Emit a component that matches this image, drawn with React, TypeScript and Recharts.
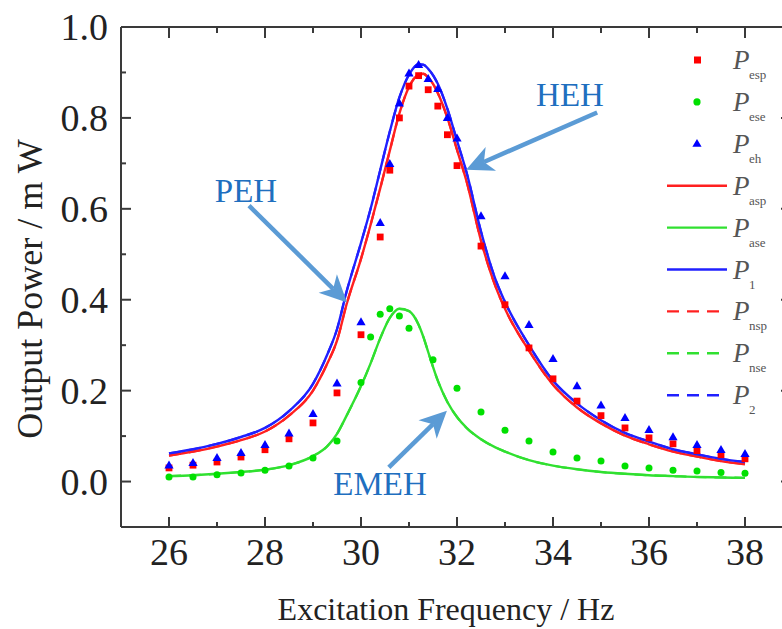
import React from 'react';
import {
  ComposedChart, Line, Scatter, XAxis, YAxis, Legend, ReferenceLine, ReferenceDot, Label,
} from 'recharts';

// ---------- data ----------
const lineFreq = [26, 26.5, 27, 27.5, 28, 28.5, 29, 29.3, 29.5, 29.7, 30, 30.2, 30.4, 30.6, 30.8, 31, 31.2, 31.3, 31.4, 31.6, 31.8, 32, 32.2, 32.5, 32.8, 33, 33.5, 34, 34.5, 35, 35.5, 36, 36.5, 37, 37.5, 38];
const P1 = [0.062, 0.071, 0.083, 0.098, 0.118, 0.155, 0.215, 0.28, 0.335, 0.418, 0.525, 0.6, 0.685, 0.77, 0.845, 0.895, 0.918, 0.917, 0.908, 0.875, 0.82, 0.75, 0.68, 0.55, 0.445, 0.395, 0.3, 0.222, 0.172, 0.135, 0.107, 0.088, 0.071, 0.06, 0.05, 0.043];
const Pasp = [0.057, 0.066, 0.077, 0.091, 0.11, 0.145, 0.2, 0.26, 0.31, 0.39, 0.49, 0.565, 0.645, 0.728, 0.81, 0.868, 0.895, 0.897, 0.889, 0.855, 0.8, 0.73, 0.66, 0.53, 0.43, 0.38, 0.288, 0.213, 0.163, 0.128, 0.101, 0.082, 0.066, 0.055, 0.045, 0.038];
const Pase = [0.012, 0.014, 0.017, 0.021, 0.026, 0.036, 0.056, 0.078, 0.105, 0.145, 0.21, 0.26, 0.315, 0.36, 0.38, 0.375, 0.345, 0.318, 0.285, 0.222, 0.175, 0.142, 0.118, 0.093, 0.075, 0.066, 0.047, 0.035, 0.027, 0.021, 0.017, 0.014, 0.012, 0.01, 0.009, 0.008];
// numerical (dashed) curves coincide with the analytical ones
const Pnsp = Pasp;
const Pnse = Pase;
const P2 = P1;

const ptFreq = [26, 26.5, 27, 27.5, 28, 28.5, 29, 29.5, 30, 30.4, 30.6, 30.8, 31, 31.2, 31.4, 31.6, 31.8, 32, 32.5, 33, 33.5, 34, 34.5, 35, 35.5, 36, 36.5, 37, 37.5, 38];
const Pesp = [0.03, 0.036, 0.043, 0.054, 0.07, 0.094, 0.129, 0.195, 0.323, 0.538, 0.685, 0.8, 0.87, 0.893, 0.862, 0.826, 0.763, 0.695, 0.518, 0.389, 0.294, 0.226, 0.177, 0.145, 0.118, 0.096, 0.083, 0.068, 0.059, 0.05];
const Peh = [0.036, 0.041, 0.052, 0.063, 0.081, 0.106, 0.149, 0.216, 0.351, 0.569, 0.699, 0.832, 0.898, 0.917, 0.886, 0.864, 0.8, 0.755, 0.584, 0.452, 0.345, 0.27, 0.21, 0.168, 0.14, 0.114, 0.098, 0.081, 0.07, 0.061];

const eseFreq = [26, 26.5, 27, 27.5, 28, 28.5, 29, 29.5, 30, 30.2, 30.4, 30.6, 30.8, 31, 31.5, 32, 32.5, 33, 33.5, 34, 34.5, 35, 35.5, 36, 36.5, 37, 37.5, 38];
const Pese = [0.01, 0.01, 0.015, 0.019, 0.025, 0.034, 0.052, 0.089, 0.218, 0.318, 0.368, 0.38, 0.364, 0.337, 0.268, 0.205, 0.153, 0.113, 0.089, 0.065, 0.052, 0.045, 0.034, 0.03, 0.025, 0.023, 0.02, 0.018];

const xTicks = [26, 27, 28, 29, 30, 31, 32, 33, 34, 35, 36, 37, 38];
const yTicks = [0, 0.1, 0.2, 0.3, 0.4, 0.5, 0.6, 0.7, 0.8, 0.9, 1.0];

const legendItems = [
  { sub: 'esp', color: '#ff0000', kind: 'square' },
  { sub: 'ese', color: '#00e000', kind: 'circle' },
  { sub: 'eh', color: '#0000ff', kind: 'triangle' },
  { sub: 'asp', color: '#ff2020', kind: 'solid' },
  { sub: 'ase', color: '#30e030', kind: 'solid' },
  { sub: '1', color: '#2020ff', kind: 'solid' },
  { sub: 'nsp', color: '#ff2020', kind: 'dashed' },
  { sub: 'nse', color: '#30e030', kind: 'dashed' },
  { sub: '2', color: '#2020ff', kind: 'dashed' },
];

const zip = (xs: number[], ys: number[]) => xs.map((f, i) => ({ f, v: ys[i] }));

// ---------- styles ----------
const AXIS = '#3a3a3a';
const FONT = '"Liberation Serif", "Times New Roman", serif';
const ARROW = '#5b9bd5';
const NOTE = '#1f6fbf';
const RED = '#ff2020';
const GREEN = '#30e030';
const BLUE = '#2020ff';
const serif = (size: number, extra: any = {}) => ({ fontFamily: FONT, fontSize: size, ...extra });

const isMajorX = (v: number) => Math.round(v) % 2 === 0;
const isMajorY = (v: number) => Math.round(v * 10) % 2 === 0;

function BottomTick(props: any) {
  const { x, y, payload } = props;
  const v = payload.value;
  const major = isMajorX(v);
  return (
    <g>
      <line x1={x} x2={x} y1={y} y2={y - (major ? 10 : 5)} stroke={AXIS} strokeWidth={2} />
      {major && (
        <text x={x} y={y + 38} textAnchor="middle" style={serif(38)} fill="#222">{v}</text>
      )}
    </g>
  );
}
function TopTick(props: any) {
  const { x, y, payload } = props;
  const major = isMajorX(payload.value);
  return <line x1={x} x2={x} y1={y} y2={y + (major ? 11 : 6)} stroke={AXIS} strokeWidth={2} />;
}
function LeftTick(props: any) {
  const { x, y, payload } = props;
  const v = payload.value;
  const major = isMajorY(v);
  return (
    <g>
      <line x1={x} x2={x + (major ? 10 : 5)} y1={y} y2={y} stroke={AXIS} strokeWidth={2} />
      {major && (
        <text x={x - 13} y={y + 13} textAnchor="end" style={serif(38)} fill="#222">{v.toFixed(1)}</text>
      )}
    </g>
  );
}
function RightTick(props: any) {
  const { x, y, payload } = props;
  const major = isMajorY(payload.value);
  return <line x1={x} x2={x - (major ? 12 : 6)} y1={y} y2={y} stroke={AXIS} strokeWidth={2} />;
}

function Arrow(props: any) {
  const { x1, y1, x2, y2 } = props;
  const dx = x2 - x1;
  const dy = y2 - y1;
  const L = Math.hypot(dx, dy) || 1;
  const ux = dx / L;
  const uy = dy / L;
  const hl = 27;
  const hw = 13;
  const bx = x2 - ux * hl;
  const by = y2 - uy * hl;
  const nx = x2 - ux * hl * 0.72;
  const ny = y2 - uy * hl * 0.72;
  const px = -uy;
  const py = ux;
  return (
    <g>
      <line x1={x1} y1={y1} x2={nx} y2={ny} stroke={ARROW} strokeWidth={4.5} />
      <polygon
        points={`${x2},${y2} ${bx + px * hw},${by + py * hw} ${nx},${ny} ${bx - px * hw},${by - py * hw}`}
        fill={ARROW}
      />
    </g>
  );
}

const noteShape = (txt: string) => (p: any) => (
  <text x={p.cx} y={p.cy} textAnchor="middle" style={serif(33)} fill={NOTE}>{txt}</text>
);

const Square = (color: string) => (p: any) => (
  <rect x={p.cx - 3.4} y={p.cy - 3.4} width={6.8} height={6.8} fill={color} />
);
const Dot = (color: string) => (p: any) => <circle cx={p.cx} cy={p.cy} r={3.5} fill={color} />;
const Tri = (color: string) => (p: any) => (
  <polygon points={`${p.cx},${p.cy - 4.8} ${p.cx - 4.6},${p.cy + 3.2} ${p.cx + 4.6},${p.cy + 3.2}`} fill={color} />
);

function LegendBox() {
  const rowY = (i: number) => 20 + i * 41.9;
  return (
    <svg width={132} height={380} style={{ display: 'block' }}>
      {legendItems.map((it, i) => {
        const y = rowY(i);
        let mark: any = null;
        if (it.kind === 'square') mark = <rect x={44} y={y - 3.5} width={7} height={7} fill={it.color} />;
        else if (it.kind === 'circle') mark = <circle cx={47} cy={y} r={3.6} fill={it.color} />;
        else if (it.kind === 'triangle') mark = <polygon points={`47,${y - 4.8} 42.4,${y + 3} 51.6,${y + 3}`} fill={it.color} />;
        else mark = (
          <line x1={17} x2={77} y1={y} y2={y} stroke={it.color} strokeWidth={2.4}
            strokeDasharray={it.kind === 'dashed' ? '12 8' : undefined} />
        );
        return (
          <g key={it.sub}>
            {mark}
            <text x={83} y={y + 9} style={serif(27, { fontStyle: 'italic' })} fill="#555">P</text>
            <text x={99} y={y + 19} style={serif(13)} fill="#555">{it.sub}</text>
          </g>
        );
      })}
    </svg>
  );
}

export default function App() {
  return (
    <div style={{ position: 'absolute', left: 0, top: 0, width: 782, height: 629, overflow: 'hidden', background: '#fff' }}>
      <ComposedChart width={800} height={629} margin={{ top: 26, right: 6, bottom: 101, left: 120 }}>
        <XAxis
          type="number" dataKey="f" domain={[25, 39]} ticks={xTicks} interval={0}
          height={1} tickSize={0} tickMargin={0} tickLine={false}
          axisLine={{ stroke: AXIS, strokeWidth: 2 }} tick={<BottomTick />} allowDataOverflow
        >
          <Label content={(p: any) => (
            <text x={p.viewBox.x + 325} y={p.viewBox.y + 93} textAnchor="middle" style={serif(32)} fill="#222">
              Excitation Frequency / Hz
            </text>
          )} />
        </XAxis>
        <XAxis
          xAxisId="top" orientation="top" type="number" dataKey="f" domain={[25, 39]} ticks={xTicks} interval={0}
          height={1} tickSize={0} tickMargin={0} tickLine={false}
          axisLine={{ stroke: AXIS, strokeWidth: 2 }} tick={<TopTick />} allowDataOverflow
        />
        <YAxis
          type="number" domain={[-0.1, 1.0]} ticks={yTicks} interval={0}
          width={1} tickSize={0} tickMargin={0} tickLine={false}
          axisLine={{ stroke: AXIS, strokeWidth: 2 }} tick={<LeftTick />} allowDataOverflow
        >
          <Label content={(p: any) => (
            <text
              x={p.viewBox.x - 90} y={p.viewBox.y + 262} textAnchor="middle" dominantBaseline="central"
              transform={`rotate(-90 ${p.viewBox.x - 90} ${p.viewBox.y + 262})`}
              style={serif(36)} fill="#222"
            >
              Output Power / m W
            </text>
          )} />
        </YAxis>
        <YAxis
          yAxisId="right" orientation="right" type="number" domain={[-0.1, 1.0]} ticks={yTicks} interval={0}
          width={1} tickSize={0} tickMargin={0} tickLine={false}
          axisLine={{ stroke: AXIS, strokeWidth: 2 }} tick={<RightTick />} allowDataOverflow
        />

        <Line data={zip(lineFreq, Pnsp)} dataKey="v" type="monotone" stroke={RED} strokeWidth={2.2} strokeDasharray="12 8" dot={false} activeDot={false} isAnimationActive={false} legendType="none" />
        <Line data={zip(lineFreq, Pnse)} dataKey="v" type="monotone" stroke={GREEN} strokeWidth={2.2} strokeDasharray="12 8" dot={false} activeDot={false} isAnimationActive={false} legendType="none" />
        <Line data={zip(lineFreq, P2)} dataKey="v" type="monotone" stroke={BLUE} strokeWidth={2.2} strokeDasharray="12 8" dot={false} activeDot={false} isAnimationActive={false} legendType="none" />
        <Line data={zip(lineFreq, Pasp)} dataKey="v" type="monotone" stroke={RED} strokeWidth={2.4} dot={false} activeDot={false} isAnimationActive={false} />
        <Line data={zip(lineFreq, Pase)} dataKey="v" type="monotone" stroke={GREEN} strokeWidth={2.4} dot={false} activeDot={false} isAnimationActive={false} />
        <Line data={zip(lineFreq, P1)} dataKey="v" type="monotone" stroke={BLUE} strokeWidth={2.4} dot={false} activeDot={false} isAnimationActive={false} />

        <Scatter data={zip(ptFreq, Pesp)} dataKey="v" shape={Square('#ff0000')} isAnimationActive={false} />
        <Scatter data={zip(eseFreq, Pese)} dataKey="v" shape={Dot('#00e000')} isAnimationActive={false} />
        <Scatter data={zip(ptFreq, Peh)} dataKey="v" shape={Tri('#0000ff')} isAnimationActive={false} />

        <ReferenceLine segment={[{ x: 27.667, y: 0.607 }, { x: 29.708, y: 0.394 }]} shape={<Arrow />} />
        <ReferenceLine segment={[{ x: 34.92, y: 0.812 }, { x: 32.19, y: 0.686 }]} shape={<Arrow />} />
        <ReferenceLine segment={[{ x: 30.58, y: 0.031 }, { x: 31.79, y: 0.156 }]} shape={<Arrow />} />
        <ReferenceDot x={27.605} y={0.614} r={0} shape={noteShape('PEH')} />
        <ReferenceDot x={34.354} y={0.827} r={0} shape={noteShape('HEH')} />
        <ReferenceDot x={30.396} y={-0.0286} r={0} shape={noteShape('EMEH')} ifOverflow="visible" />

        <Legend
          content={() => <LegendBox />}
          layout="horizontal" verticalAlign="middle" align="center"
          wrapperStyle={{ left: 650, top: 40, width: 132, height: 380 }}
        />
      </ComposedChart>
    </div>
  );
}
